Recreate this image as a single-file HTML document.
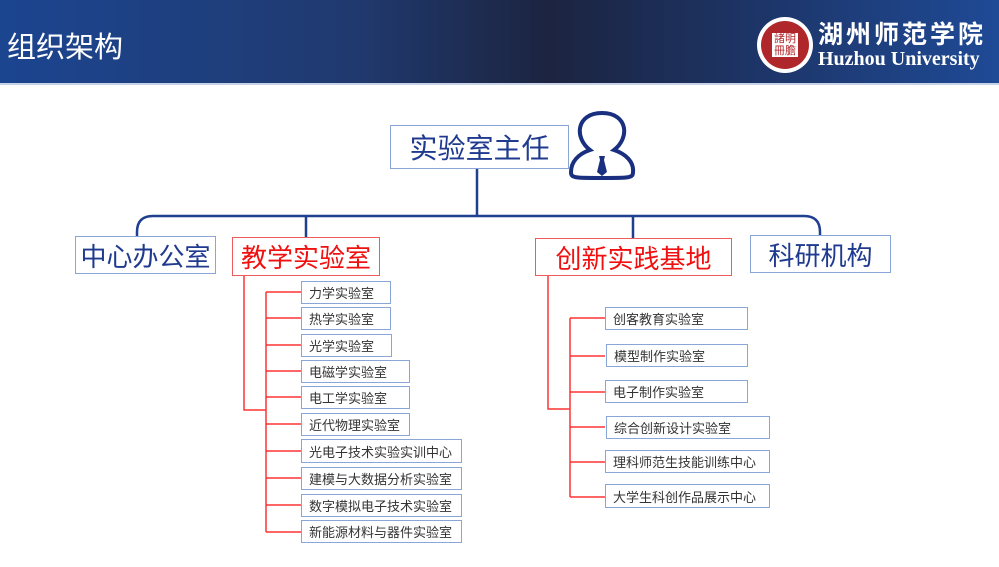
<!DOCTYPE html>
<html><head><meta charset="utf-8"><style>
body{margin:0;width:999px;height:567px;overflow:hidden;background:#fff;font-family:"Liberation Sans","Noto Sans CJK SC",sans-serif;position:relative}
.hdr{position:absolute;left:0;top:0;width:999px;height:83px;background:linear-gradient(90deg,#1c4590 0%,#203a70 35%,#1c2440 55%,#1d3466 75%,#1f4a96 100%);border-bottom:2px solid #c8d2e6}
.t{position:absolute;color:#fff;white-space:nowrap}
.b{position:absolute;box-sizing:border-box;border:1.5px solid #8aa6d6;background:#fff;display:flex;align-items:center;white-space:nowrap}
.big{font-size:26px;color:#1f3a8f;justify-content:center}
.red{color:#f01010;border-color:#f05a5a}
.sm{font-size:13px;color:#333;padding-left:7px}
</style></head><body>
<div class="hdr"></div>
<div class="t" style="left:7px;top:24px;font-size:29px">组织架构</div>
<div style="position:absolute;left:757px;top:17px;width:56px;height:56px;border-radius:50%;background:#fff;"></div>
<div style="position:absolute;left:761px;top:21px;width:48px;height:48px;border-radius:50%;background:#b0272b;"></div>
<div style="position:absolute;left:772px;top:33px;width:26px;height:24px;background:#fff;color:#b0272b;font-size:11px;line-height:12px;text-align:center">諸明<br>冊膽</div>
<div class="t" style="left:818px;top:15px;font-size:25px;font-weight:bold;letter-spacing:3px">湖州师范学院</div>
<div class="t" style="left:818px;top:48px;font-size:20px;font-weight:bold;font-style:normal;font-family:'Liberation Serif',serif">Huzhou University</div>

<svg style="position:absolute;left:0;top:0" width="999" height="567">
<g fill="none" stroke="#1f3f8f" stroke-width="2.5">
<path d="M477 168 V216"/>
<path d="M137 236 V232 Q137 216 153 216 H804 Q820 216 820 232 V236"/>
<path d="M306 216 V237 M633 216 V238"/>
</g>
<g fill="none" stroke="#f33" stroke-width="1.5">
<path d="M244 276 V410 H266 M266 292 V532"/>
<path d="M266 292 H301 M266 318 H301 M266 345 H301 M266 371 H301 M266 397 H301 M266 424 H301 M266 451 H301 M266 478 H301 M266 505 H301 M266 532 H301"/>
<path d="M548 276 V409 H570 M570 318 V497"/>
<path d="M570 318 H605 M570 356 H605 M570 392 H605 M570 427 H605 M570 462 H605 M570 497 H605"/>
</g>
<g fill="none" stroke="#1a2f80" stroke-width="4">
<path d="M590 150 C574 138 576 113 602 113 C628 113 630 138 614 150 C626 154 634 162 633 172 C633 178 630 178 602 178 C574 178 571 178 571 172 C571 162 578 154 590 150 Z"/>
</g>
<path d="M599 156 H605 L604 160 L607 172 L602 176 L597 172 L600 160 Z" fill="#1a2f80"/>
</svg>

<div class="b big" style="left:390px;top:125px;width:179px;height:44px;font-size:28px">实验室主任</div>
<div class="b big" style="left:75px;top:236px;width:141px;height:38px">中心办公室</div>
<div class="b big red" style="left:232px;top:237px;width:148px;height:39px">教学实验室</div>
<div class="b big red" style="left:535px;top:238px;width:197px;height:38px">创新实践基地</div>
<div class="b big" style="left:750px;top:235px;width:141px;height:38px">科研机构</div>

<div class="b sm" style="left:301px;top:281px;width:90px;height:23px">力学实验室</div>
<div class="b sm" style="left:301px;top:307px;width:90px;height:23px">热学实验室</div>
<div class="b sm" style="left:301px;top:334px;width:91px;height:23px">光学实验室</div>
<div class="b sm" style="left:301px;top:360px;width:109px;height:23px">电磁学实验室</div>
<div class="b sm" style="left:301px;top:386px;width:109px;height:23px">电工学实验室</div>
<div class="b sm" style="left:301px;top:413px;width:109px;height:23px">近代物理实验室</div>
<div class="b sm" style="left:301px;top:439px;width:161px;height:24px">光电子技术实验实训中心</div>
<div class="b sm" style="left:301px;top:467px;width:161px;height:23px">建模与大数据分析实验室</div>
<div class="b sm" style="left:301px;top:494px;width:161px;height:23px">数字模拟电子技术实验室</div>
<div class="b sm" style="left:301px;top:520px;width:161px;height:23px">新能源材料与器件实验室</div>

<div class="b sm" style="left:605px;top:307px;width:143px;height:23px">创客教育实验室</div>
<div class="b sm" style="left:606px;top:344px;width:142px;height:23px">模型制作实验室</div>
<div class="b sm" style="left:605px;top:380px;width:143px;height:23px">电子制作实验室</div>
<div class="b sm" style="left:606px;top:416px;width:164px;height:23px">综合创新设计实验室</div>
<div class="b sm" style="left:605px;top:450px;width:165px;height:23px">理科师范生技能训练中心</div>
<div class="b sm" style="left:605px;top:484px;width:165px;height:24px">大学生科创作品展示中心</div>
</body></html>
